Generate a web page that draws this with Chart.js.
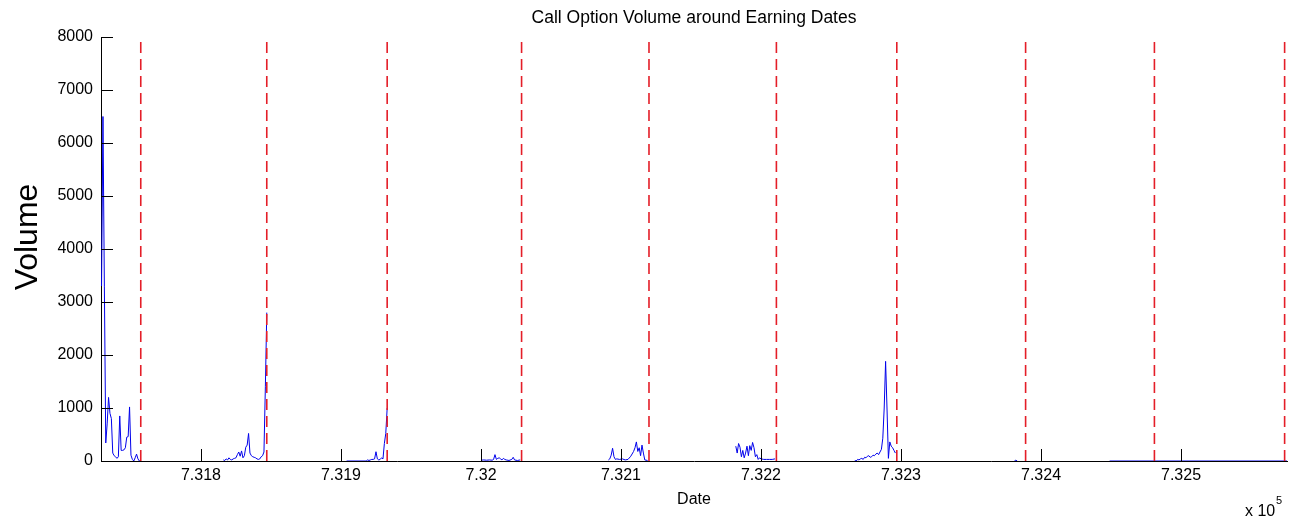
<!DOCTYPE html>
<html>
<head>
<meta charset="utf-8">
<script src="https://cdn.jsdelivr.net/npm/chart.js@4.4.1/dist/chart.umd.min.js"></script>
<style>
  html, body { margin: 0; padding: 0; background: #fff; }
  canvas { display: block; }
</style>
</head>
<body>
<canvas id="volChart" width="1290" height="519"></canvas>
<script>
// earnings dates (datenum) -> red dashed lines
const earningDates = [731757, 731847, 731933, 732029, 732120, 732211, 732297, 732389, 732481, 732574];

// call option volume windows before each earnings date
const seg1Dates = [731729, 731730, 731731, 731732, 731733, 731734, 731735, 731736, 731737, 731738, 731739, 731740, 731741, 731742, 731743, 731744, 731745, 731746, 731747, 731748, 731749, 731750, 731751, 731752, 731753, 731754, 731755, 731756, 731757];
const seg1Vol   = [3300, 6500, 3300, 340, 700, 1200, 900, 800, 150, 100, 80, 50, 80, 850, 200, 200, 210, 250, 450, 460, 1020, 110, 30, 0, 60, 130, 40, 0, 0];

const seg2Dates = [731816, 731817, 731818, 731819, 731820, 731821, 731822, 731823, 731824, 731825, 731826, 731827, 731828, 731829, 731830, 731831, 731832, 731833, 731834, 731835, 731836, 731837, 731838, 731839, 731840, 731841, 731842, 731843, 731844, 731845, 731846, 731847];
const seg2Vol   = [20, 10, 40, 20, 60, 30, 20, 40, 50, 60, 120, 170, 90, 190, 60, 100, 260, 300, 520, 150, 100, 80, 70, 60, 40, 30, 40, 80, 100, 170, 1400, 2800];

const seg3Dates = [731904, 731918, 731919, 731920, 731921, 731922, 731923, 731924, 731925, 731926, 731927, 731928, 731929, 731930, 731931, 731932, 731933];
const seg3Vol   = [0, 0, 20, 10, 20, 30, 30, 40, 175, 40, 20, 30, 60, 40, 330, 520, 1000];

const seg4Dates = [732000, 732002, 732004, 732006, 732008, 732009, 732010, 732011, 732012, 732013, 732014, 732015, 732016, 732017, 732018, 732020, 732022, 732023, 732024, 732026, 732028];
const seg4Vol   = [15, 20, 15, 20, 15, 30, 120, 30, 50, 60, 40, 20, 50, 30, 20, 10, 30, 70, 20, 10, 20];

const seg5Dates = [732091, 732092, 732093, 732094, 732095, 732096, 732097, 732099, 732101, 732103, 732105, 732107, 732109, 732110, 732111, 732112, 732113, 732114, 732115, 732116, 732117, 732119];
const seg5Vol   = [20, 40, 110, 240, 80, 30, 40, 30, 40, 20, 30, 90, 180, 250, 360, 180, 250, 100, 300, 150, 20, 10];

const seg6Dates = [732182, 732183, 732184, 732185, 732186, 732187, 732188, 732189, 732190, 732191, 732192, 732193, 732194, 732195, 732196, 732197, 732198, 732199, 732200, 732202, 732204, 732206, 732208, 732210];
const seg6Vol   = [280, 150, 330, 260, 80, 200, 60, 150, 280, 100, 290, 200, 350, 250, 80, 120, 30, 60, 40, 30, 30, 30, 30, 40];

const seg7Dates = [732267, 732268, 732269, 732270, 732271, 732272, 732273, 732274, 732275, 732276, 732277, 732278, 732279, 732280, 732281, 732282, 732283, 732284, 732285, 732286, 732287, 732288, 732289, 732290, 732291, 732292, 732293, 732294, 732295, 732296];
const seg7Vol   = [10, 0, 30, 20, 40, 50, 30, 70, 60, 90, 100, 70, 80, 110, 100, 130, 150, 120, 170, 220, 430, 1000, 1880, 1000, 50, 360, 280, 250, 200, 150];

const seg8Dates = [732381, 732382, 732383];
const seg8Vol   = [0, 15, 0];

const seg9Dates = [732449, 732576];
const seg9Vol   = [0, 0];

const segDates = [seg1Dates, seg2Dates, seg3Dates, seg4Dates, seg5Dates, seg6Dates, seg7Dates, seg8Dates, seg9Dates];
const segVols  = [seg1Vol, seg2Vol, seg3Vol, seg4Vol, seg5Vol, seg6Vol, seg7Vol, seg8Vol, seg9Vol];

const xTicks = [731800, 731900, 732000, 732100, 732200, 732300, 732400, 732500];
const yTicks = [0, 1000, 2000, 3000, 4000, 5000, 6000, 7000, 8000];
const xMin = 731728.6, xMax = 732575.7;

const FONT = "'Liberation Sans', Arial, Helvetica, sans-serif";

// blue volume line, gaps between windows
const volumePoints = [];
segDates.forEach((ds, i) => {
  ds.forEach((d, j) => volumePoints.push({ x: d, y: segVols[i][j] }));
  volumePoints.push({ x: ds[ds.length - 1] + 0.5, y: null });
});

// red earnings lines
const earnPoints = [];
earningDates.forEach(d => {
  earnPoints.push({ x: d, y: 0 }, { x: d, y: 8000 }, { x: d, y: null });
});

const inwardTicks = {
  id: 'inwardTicks',
  afterDraw(chart) {
    const { ctx, chartArea: a, scales: { x, y } } = chart;
    ctx.save();
    ctx.strokeStyle = '#000';
    ctx.lineWidth = 1;
    ctx.beginPath();
    x.ticks.forEach(t => {
      const px = Math.round(x.getPixelForValue(t.value)) + 0.5;
      ctx.moveTo(px, a.bottom);
      ctx.lineTo(px, a.bottom - 12);
    });
    y.ticks.forEach(t => {
      const py = Math.round(y.getPixelForValue(t.value)) + 0.5;
      ctx.moveTo(a.left, py);
      ctx.lineTo(a.left + 12, py);
    });
    ctx.stroke();

    ctx.fillStyle = '#000';
    // y label
    ctx.save();
    ctx.translate(28, 237);
    ctx.rotate(-Math.PI / 2);
    ctx.font = '32px ' + FONT;
    ctx.textAlign = 'center';
    ctx.textBaseline = 'middle';
    ctx.fillText('Volume', 0, 0);
    ctx.restore();

    // exponent
    ctx.font = '16px ' + FONT;
    ctx.textAlign = 'left';
    ctx.textBaseline = 'middle';
    ctx.fillText('x 10', 1245, 512);
    ctx.font = '11px ' + FONT;
    ctx.fillText('5', 1276, 501);
    ctx.restore();
  }
};

new Chart(document.getElementById('volChart'), {
  type: 'line',
  data: {
    datasets: [
      {
        label: 'Earnings',
        data: earnPoints,
        borderColor: 'rgb(228, 30, 40)',
        borderWidth: 1.6,
        borderDash: [11, 6],
        pointRadius: 0,
        spanGaps: false,
        order: 0
      },
      {
        label: 'Volume',
        data: volumePoints,
        borderColor: 'rgb(0, 0, 235)',
        borderWidth: 1,
        pointRadius: 0,
        tension: 0,
        spanGaps: false,
        order: 1
      }
    ]
  },
  options: {
    responsive: false,
    animation: false,
    layout: { padding: { left: 0, right: 3, top: 0, bottom: 0 } },
    plugins: {
      legend: { display: false },
      tooltip: { enabled: false },
      title: {
        display: true,
        fullSize: false,
        text: 'Call Option Volume around Earning Dates',
        color: '#000',
        font: { family: FONT, size: 17.5, weight: 'normal' },
        padding: { top: 8, bottom: 8 }
      }
    },
    scales: {
      x: {
        type: 'linear',
        min: xMin,
        max: xMax,
        grid: { display: false, drawTicks: false },
        border: { display: true, color: '#000', width: 1 },
        afterBuildTicks: s => { s.ticks = xTicks.map(v => ({ value: v })); },
        afterFit: s => { s.height = 58; },
        ticks: {
          color: '#000',
          font: { family: FONT, size: 16 },
          padding: 5,
          maxRotation: 0,
          autoSkip: false,
          callback: v => String(Number((v / 1e5).toFixed(4)))
        },
        title: {
          display: true,
          text: 'Date',
          color: '#000',
          font: { family: FONT, size: 16 },
          padding: { top: 4, bottom: 10 }
        }
      },
      y: {
        min: 0,
        max: 8000,
        grid: { display: false, drawTicks: false },
        border: { display: true, color: '#000', width: 1 },
        afterBuildTicks: s => { s.ticks = yTicks.map(v => ({ value: v })); },
        afterFit: s => { s.width = 101; },
        ticks: {
          color: '#000',
          font: { family: FONT, size: 16 },
          padding: 8,
          callback: v => String(v)
        }
      }
    }
  },
  plugins: [inwardTicks]
});
</script>
</body>
</html>
